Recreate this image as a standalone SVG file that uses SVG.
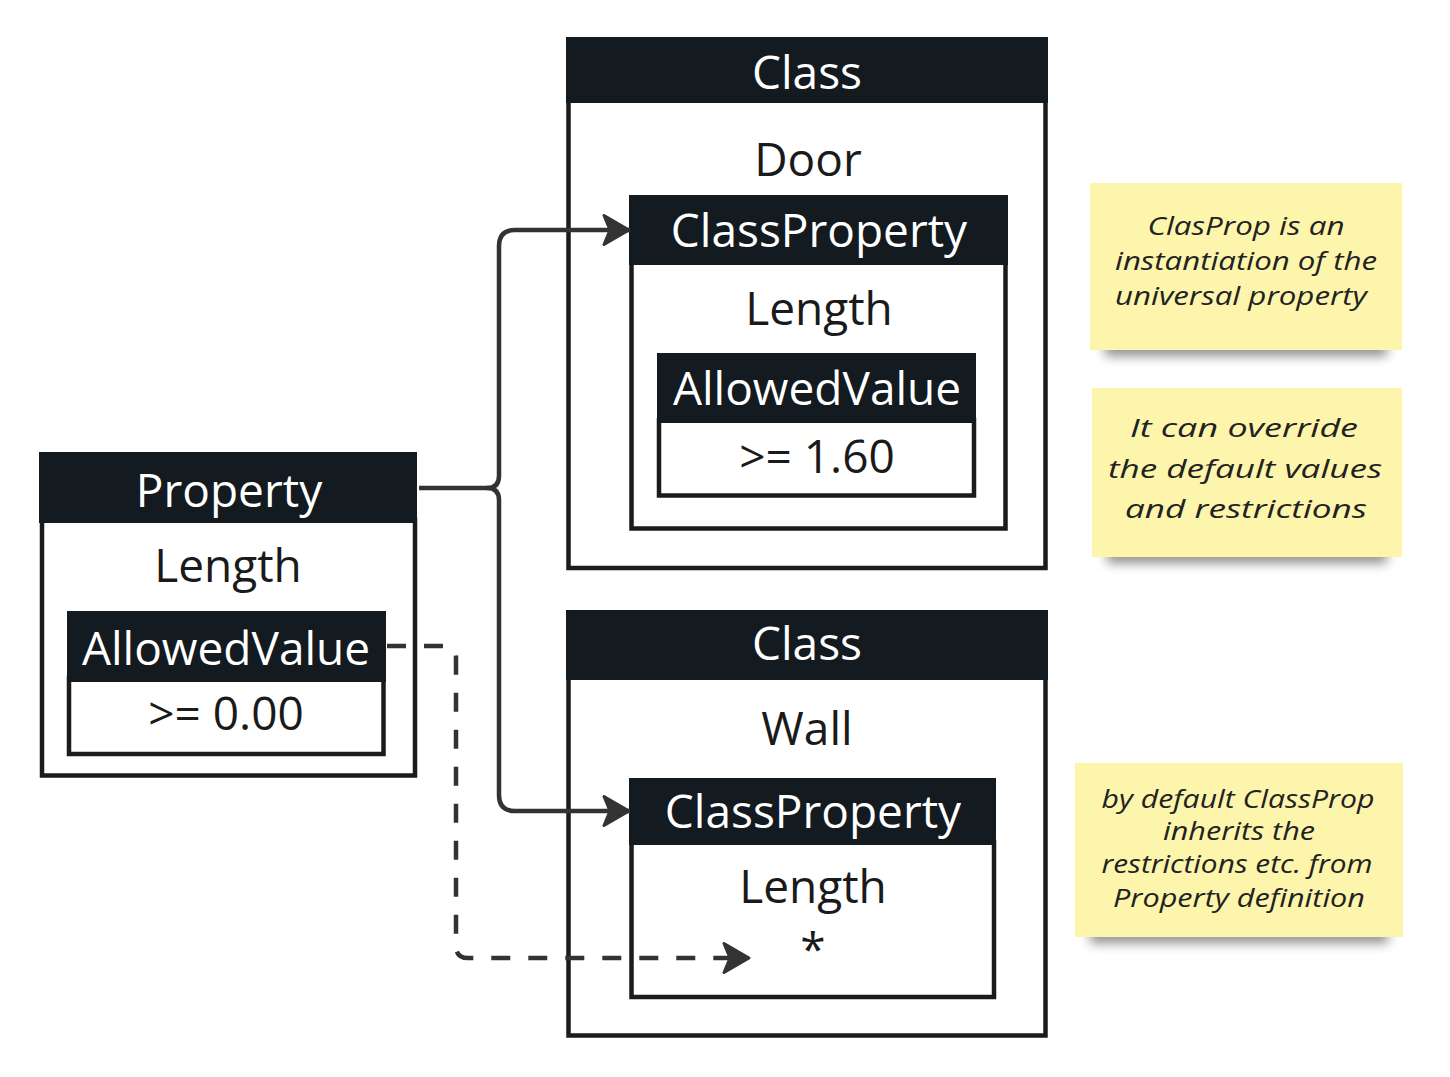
<svg xmlns="http://www.w3.org/2000/svg" width="1450" height="1077" viewBox="0 0 1450 1077">
<style>
.hd{fill:#131a20}
.bd{fill:#fff;stroke:#1b1b1b;stroke-width:4.5}
.ht{font-family:"Open Sans","Liberation Sans",sans-serif;font-size:46px;fill:#fff;text-anchor:middle}
.bt{font-family:"Open Sans","Liberation Sans",sans-serif;font-size:46px;fill:#1a1a1a;text-anchor:middle}
.note{fill:#fcf5ab}
.nt{font-family:"Open Sans","DejaVu Sans",sans-serif;font-style:italic;font-size:25px;fill:#222;text-anchor:middle}
.con{fill:none;stroke:#333;stroke-width:4.5}
</style>
<defs>
<marker id="ah" markerUnits="userSpaceOnUse" markerWidth="40" markerHeight="40" viewBox="-34 -20 36 40" refX="0" refY="0" orient="auto">
<path d="M-1,0 L-26,-14.5 L-20,0 L-26,14.5 Z" fill="#333" stroke="#333" stroke-width="3" stroke-linejoin="round"/>
</marker>
<filter id="sh" x="-20%" y="-100%" width="140%" height="300%"><feGaussianBlur stdDeviation="6"/></filter>
</defs>

<g id="property">
<rect class="bd" x="42" y="520" width="373" height="255.5"/>
<rect class="hd" x="39" y="452" width="378" height="71"/>
<text class="ht" x="229" y="507">Property</text>
<text class="bt" x="228" y="582">Length</text>
</g>
<g id="property-allowedvalue">
<rect class="bd" x="69" y="678" width="314.5" height="76"/>
<rect class="hd" x="67" y="611" width="319" height="71"/>
<text class="ht" x="226" y="665">AllowedValue</text>
<text class="bt" x="226" y="730">&gt;= 0.00</text>
</g>

<g id="class-door">
<rect class="bd" x="568.5" y="100" width="477" height="468"/>
<rect class="hd" x="566" y="37" width="482" height="66"/>
<text class="ht" x="807" y="89">Class</text>
<text class="bt" x="808" y="176">Door</text>
</g>
<g id="classproperty-door">
<rect class="bd" x="631.5" y="262" width="374" height="266.5"/>
<rect class="hd" x="629" y="195" width="379" height="70"/>
<text class="ht" x="819" y="247">ClassProperty</text>
<text class="bt" x="819" y="325">Length</text>
</g>
<g id="allowedvalue-door">
<rect class="bd" x="659" y="420" width="315" height="75.5"/>
<rect class="hd" x="657" y="353" width="319" height="70"/>
<text class="ht" x="817" y="405">AllowedValue</text>
<text class="bt" x="817" y="473">&gt;= 1.60</text>
</g>

<g id="class-wall">
<rect class="bd" x="568.5" y="676" width="477" height="359.5"/>
<rect class="hd" x="566" y="610" width="482" height="70"/>
<text class="ht" x="807" y="660">Class</text>
<text class="bt" x="807" y="745">Wall</text>
</g>
<g id="classproperty-wall">
<rect class="bd" x="631.5" y="842" width="362.5" height="155"/>
<rect class="hd" x="629" y="778" width="367" height="67"/>
<text class="ht" x="813" y="828">ClassProperty</text>
<text class="bt" x="813" y="903">Length</text>
<text class="bt" x="813" y="966">*</text>
</g>

<g id="note-1">
<rect x="1105" y="340" width="282" height="16" fill="#000" opacity="0.45" filter="url(#sh)"/>
<rect class="note" x="1090" y="183" width="312" height="167"/>
<text class="nt" x="1246" y="235" textLength="197" lengthAdjust="spacingAndGlyphs">ClasProp is an</text>
<text class="nt" x="1246" y="270" textLength="262" lengthAdjust="spacingAndGlyphs">instantiation of the</text>
<text class="nt" x="1241" y="305" textLength="252" lengthAdjust="spacingAndGlyphs">universal property</text>
</g>
<g id="note-2">
<rect x="1107" y="547" width="280" height="16" fill="#000" opacity="0.45" filter="url(#sh)"/>
<rect class="note" x="1092" y="388" width="310" height="169"/>
<text class="nt" x="1244" y="437" font-size="28" textLength="228" lengthAdjust="spacingAndGlyphs">It can override</text>
<text class="nt" x="1245" y="478" font-size="28" textLength="274" lengthAdjust="spacingAndGlyphs">the default values</text>
<text class="nt" x="1246" y="518" font-size="28" textLength="242" lengthAdjust="spacingAndGlyphs">and restrictions</text>
</g>
<g id="note-3">
<rect x="1090" y="927" width="298" height="16" fill="#000" opacity="0.45" filter="url(#sh)"/>
<rect class="note" x="1075" y="763" width="328" height="174"/>
<text class="nt" x="1238" y="808" textLength="273" lengthAdjust="spacingAndGlyphs">by default ClassProp</text>
<text class="nt" x="1239" y="840" textLength="152" lengthAdjust="spacingAndGlyphs">inherits the</text>
<text class="nt" x="1237" y="873" textLength="271" lengthAdjust="spacingAndGlyphs">restrictions etc. from</text>
<text class="nt" x="1239" y="907" textLength="252" lengthAdjust="spacingAndGlyphs">Property definition</text>
</g>

<g id="connectors">
<path class="con" d="M419,488 H487 Q499,488 499,476 V246 Q499,230 515,230 H630" marker-end="url(#ah)"/>
<path class="con" d="M487,488 Q499,488 499,500 V795 Q499,811 515,811 H630" marker-end="url(#ah)"/>
<path class="con" d="M387,646 H444 Q456,646 456,658 V946 Q456,958 468,958 H750" stroke-dasharray="19 18" marker-end="url(#ah)"/>
</g>
</svg>
